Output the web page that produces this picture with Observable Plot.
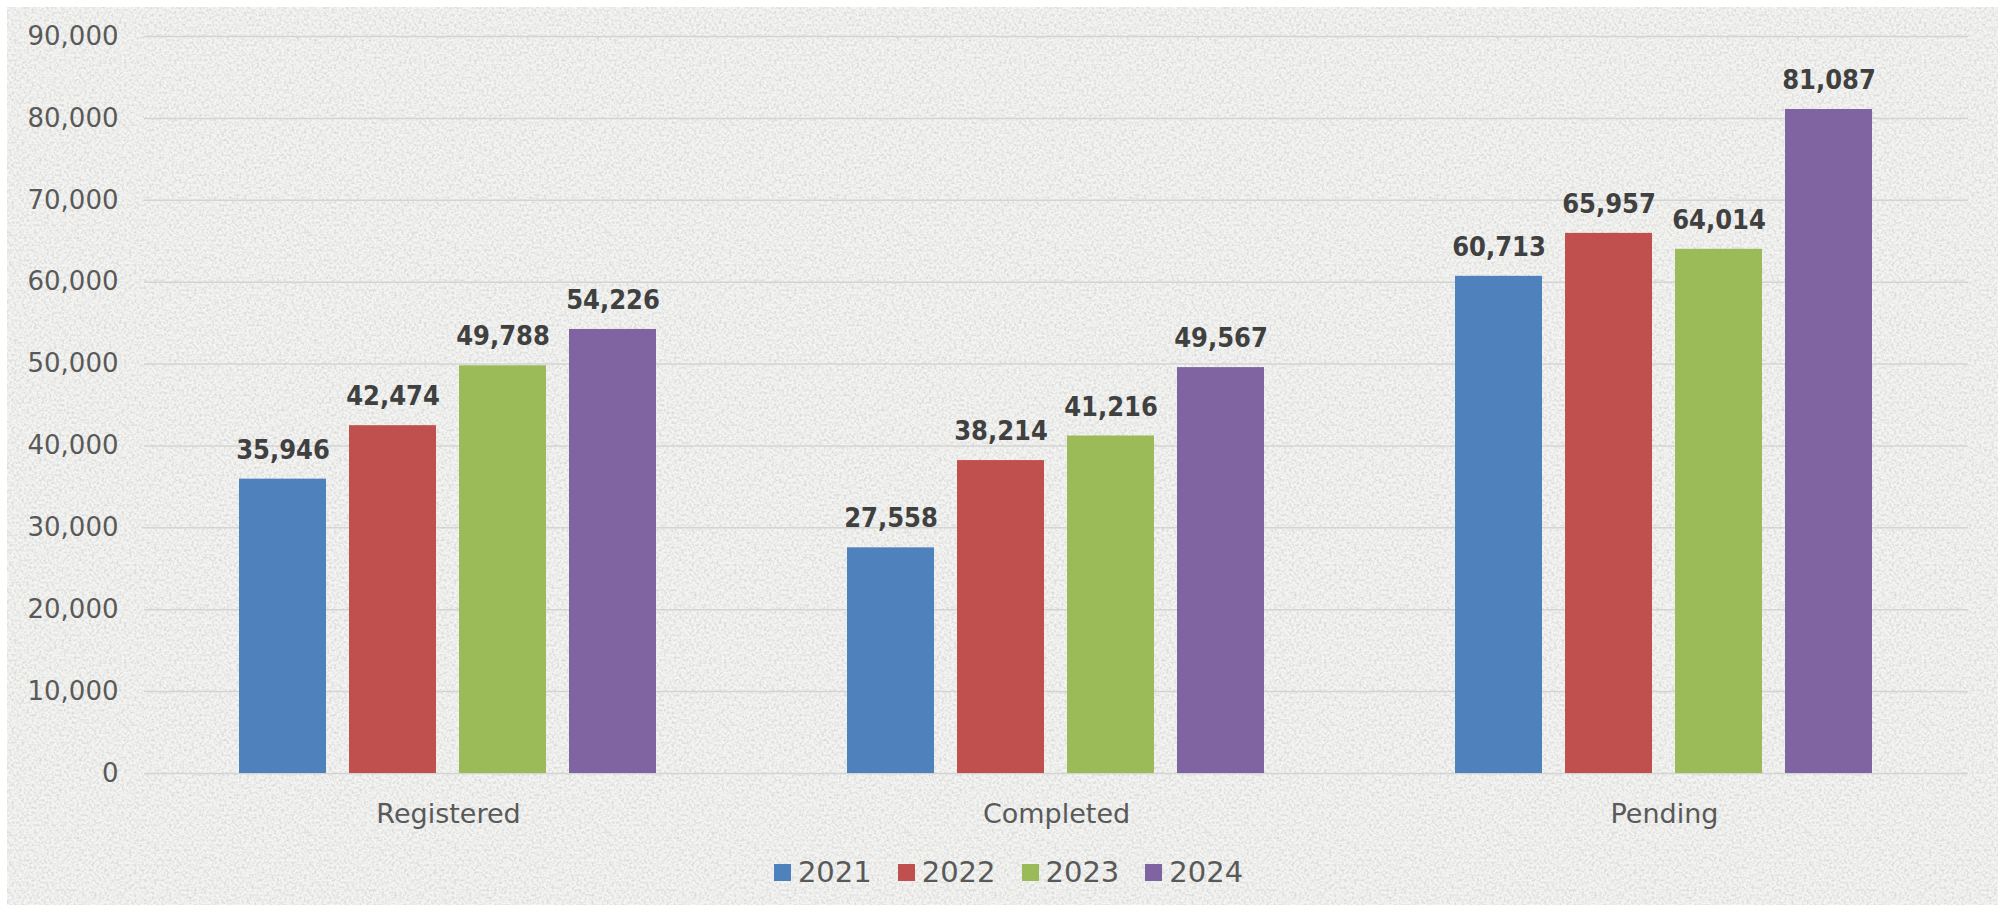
<!DOCTYPE html>
<html>
<head>
<meta charset="utf-8">
<script src="https://cdn.jsdelivr.net/npm/d3@7"></script>
<script src="https://cdn.jsdelivr.net/npm/@observablehq/plot@0.6"></script>
<style>
  html, body { margin: 0; padding: 0; background: #ffffff; }
  #frame {
    position: absolute; left: 7px; top: 7px; width: 1991px; height: 898px;
    background-color: #efefed;
    overflow: hidden;
  }
  #chart svg { display: block; background: transparent; }
  #legend {
    display: flex; justify-content: center; align-items: center;
    padding-top: 18px; margin-left: 12px;
    font-family: "DejaVu Sans", sans-serif; font-size: 29px; line-height: 29px; color: #595959;
  }
  .item { display: flex; align-items: center; margin: 0 13px; }
  .sw { width: 17px; height: 17px; margin-right: 7px; }
</style>
</head>
<body>
<div id="frame">
  <div id="chart"></div>
  <div id="legend"></div>
</div>
<script>
const categories = ["Registered", "Completed", "Pending"];
const years = ["2021", "2022", "2023", "2024"];
const registered = [35946, 42474, 49788, 54226];
const completed = [27558, 38214, 41216, 49567];
const pending = [60713, 65957, 64014, 81087];
const yTicks = [0, 10000, 20000, 30000, 40000, 50000, 60000, 70000, 80000, 90000];
const colors = ["#4F81BD", "#C0504D", "#9BBB59", "#8064A2"];

// texture background (decorative)
const tex = `<svg xmlns='http://www.w3.org/2000/svg' width='300' height='300'><filter id='n'><feTurbulence type='fractalNoise' baseFrequency='0.4' numOctaves='2' seed='7'/><feColorMatrix type='matrix' values='0 0 0 0 0.7 0 0 0 0 0.7 0 0 0 0 0.69 2.6 0 0 0 -1.05'/></filter><rect width='100%' height='100%' fill='#f4f4f2'/><rect width='100%' height='100%' filter='url(#n)'/></svg>`;
document.getElementById("frame").style.backgroundImage = `url("data:image/svg+xml,${encodeURIComponent(tex)}")`;

const series = [registered, completed, pending];
const data = [];
categories.forEach((c, i) => years.forEach((y, j) => data.push({category: c, year: y, value: series[i][j]})));

const fmt = d3.format(",");

const chart = Plot.plot({
  width: 1991,
  height: 833,
  marginLeft: 136,
  marginRight: 30,
  marginTop: 29,
  marginBottom: 67,
  style: {background: "transparent"},
  fx: {domain: categories, padding: 0, label: null},
  x: {domain: years, paddingInner: 0.208, paddingOuter: 0.857, axis: null},
  y: {domain: [0, 90000], axis: null},
  color: {domain: years, range: colors},
  marks: [
    Plot.gridY(yTicks, {stroke: "#d4d4d4", strokeOpacity: 1, strokeWidth: 1.5}),
    Plot.axisY(yTicks, {
      tickSize: 0, tickPadding: 26, tickFormat: fmt, label: null,
      fontSize: 26, fontFamily: "DejaVu Sans", fill: "#595959"
    }),
    Plot.axisFx({
      anchor: "bottom", tickSize: 0, tickPadding: 30, label: null,
      fontSize: 27, fontFamily: "DejaVu Sans", fill: "#595959"
    }),
    Plot.barY(data, {fx: "category", x: "year", y: "value", fill: "year"}),
    Plot.text(data, {
      fx: "category", x: "year", y: "value", text: d => fmt(d.value),
      dy: -29, fontSize: 27, fontWeight: "bold",
      fontFamily: "DejaVu Sans Condensed, DejaVu Sans", fill: "#404040"
    })
  ]
});
document.getElementById("chart").appendChild(chart);

const legend = document.getElementById("legend");
years.forEach((y, i) => {
  const it = document.createElement("div");
  it.className = "item";
  const sw = document.createElement("div");
  sw.className = "sw";
  sw.style.background = colors[i];
  const t = document.createElement("span");
  t.textContent = y;
  it.appendChild(sw); it.appendChild(t);
  legend.appendChild(it);
});
</script>
</body>
</html>
